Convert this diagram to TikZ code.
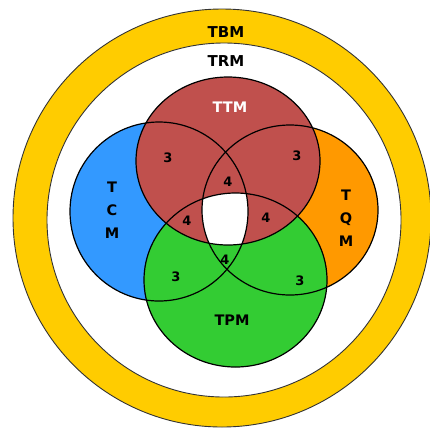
\documentclass[tikz,border=0pt]{standalone}
\usepackage{fontspec}
\setmainfont{DejaVu Sans}
\definecolor{ringyellow}{HTML}{FFCC00}
\definecolor{ttmred}{HTML}{C0504D}
\definecolor{tcmblue}{HTML}{3399FF}
\definecolor{tqmorange}{HTML}{FF9900}
\definecolor{tpmgreen}{HTML}{33CC33}
\begin{document}
\begin{tikzpicture}[x=1pt,y=-1pt,
  ring/.style={draw=black!80,line width=0.9pt},
  setline/.style={draw=black,line width=1.2pt},
  biglabel/.style={font=\fontsize{15}{15}\selectfont\bfseries,text=black},
  setlabel/.style={font=\fontsize{14.5}{14.5}\selectfont\bfseries},
  stacklabel/.style={font=\fontsize{14.5}{23}\selectfont\bfseries,align=center,text=black},
  count/.style={font=\fontsize{13}{13}\selectfont\bfseries,text=black}]
\useasboundingbox (0,0) rectangle (430,429);
\clip (0,0) rectangle (430,429);

% outer ring (TBM) and inner disc (TRM)
\fill[ringyellow] (222,218) circle (209pt);
\draw[ring] (222,218) circle (209pt);
\fill[white] (224,220) circle (177pt);
\draw[ring] (224,220) circle (177pt);

% the four sets, filled in stacking order
\def\tcmpath{(159,211.5) ellipse [x radius=89pt, y radius=89.5pt]}
\def\tqmpath{(290,210) ellipse [x radius=88pt, y radius=85pt]}
\def\tpmpath{(235.5,280) ellipse [x radius=91.5pt, y radius=87pt]}
\def\ttmpath{(228,161) ellipse [x radius=92pt, y radius=84pt]}

\fill[tcmblue] \tcmpath;
\fill[tqmorange] \tqmpath;
\fill[tpmgreen] \tpmpath;
\fill[ttmred] \ttmpath;

% common part of all four sets left blank
\begin{scope}
  \clip \tcmpath;
  \clip \tqmpath;
  \clip \tpmpath;
  \fill[white] \ttmpath;
\end{scope}

% outlines on top
\draw[setline] \tcmpath;
\draw[setline] \tqmpath;
\draw[setline] \tpmpath;
\draw[setline] \ttmpath;

% labels
\node[biglabel] (tbm) at (226,32) {TBM};
\node[biglabel] (trm) at (226,61) {TRM};
\node[setlabel,text=white] (ttm) at (230,107) {TTM};
\node[setlabel,text=black] (tpm) at (232,320) {TPM};
\node[stacklabel] (tcm) at (112,210) {T\\C\\M};
\node[stacklabel] (tqm) at (346,218) {T\\Q\\M};

% overlap counts
\node[count] (c1) at (168,158) {3};
\node[count] (c2) at (297,156) {3};
\node[count] (c3) at (176,277) {3};
\node[count] (c4) at (300,281) {3};
\node[count] (d1) at (228,182) {4};
\node[count] (d2) at (187,221) {4};
\node[count] (d3) at (266,218) {4};
\node[count] (d4) at (225,260) {4};
\end{tikzpicture}
\end{document}
